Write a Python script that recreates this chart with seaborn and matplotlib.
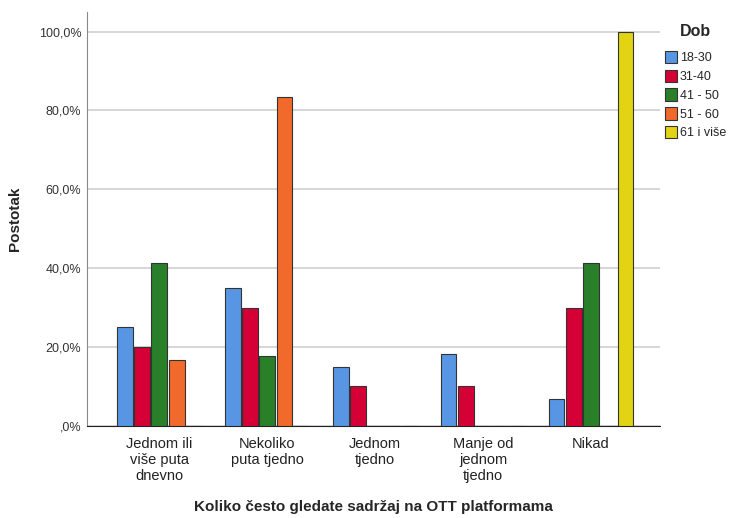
import pandas as pd
import matplotlib.pyplot as plt
import seaborn as sns
from matplotlib.ticker import FuncFormatter

# Data
categories = ["Jednom ili\nviše puta\ndnevno", "Nekoliko\nputa tjedno", "Jednom\ntjedno",
              "Manje od\njednom\ntjedno", "Nikad"]
age_groups = ["18-30", "31-40", "41 - 50", "51 - 60", "61 i više"]
p_18_30 = [25.0, 35.0, 15.0, 18.3, 6.7]
p_31_40 = [20.0, 30.0, 10.0, 10.0, 30.0]
p_41_50 = [41.2, 17.6, 0.0, 0.0, 41.2]
p_51_60 = [16.7, 83.3, 0.0, 0.0, 0.0]
p_61 = [0.0, 0.0, 0.0, 0.0, 100.0]
colors = ["#5896E4", "#D50035", "#2A8029", "#F26A2B", "#E2D412"]

rows = []
for grp, vals in zip(age_groups, [p_18_30, p_31_40, p_41_50, p_51_60, p_61]):
    for cat, v in zip(categories, vals):
        rows.append({"Kategorija": cat, "Dob": grp, "Postotak": v})
df = pd.DataFrame(rows)

sns.set_style("white")
plt.rcParams["font.family"] = ["Liberation Sans", "DejaVu Sans"]

fig = plt.figure(figsize=(7.31, 5.18), dpi=100)
ax = fig.add_axes([0.119, 0.178, 0.784, 0.799])

sns.barplot(data=df, x="Kategorija", y="Postotak", hue="Dob", order=categories,
            hue_order=age_groups, palette=colors, width=0.8, gap=0.08, edgecolor="#333333",
            linewidth=0.8, saturation=1, ax=ax, zorder=3)

ax.set_ylim(0, 105)
ax.set_xlim(-0.67, 4.64)
ax.set_yticks([0, 20, 40, 60, 80, 100])
ax.yaxis.set_major_formatter(FuncFormatter(
    lambda v, p: ",0%" if v == 0 else f"{v:.1f}%".replace(".", ",")))
ax.grid(axis="y", color="#d0d0d0", linewidth=1.2, zorder=0)
ax.set_axisbelow(True)
ax.tick_params(axis="y", labelsize=9, colors="#333333", length=0, pad=4)
ax.tick_params(axis="x", labelsize=10.5, colors="#222222", length=0, pad=8)
for lab in ax.get_xticklabels():
    lab.set_multialignment("center")

for s in ["top", "right"]:
    ax.spines[s].set_visible(False)
ax.spines["left"].set_color("#888888")
ax.spines["bottom"].set_color("#222222")

ax.set_ylabel("Postotak", fontsize=11, fontweight="bold", labelpad=12)
ax.set_xlabel("Koliko često gledate sadržaj na OTT platformama", fontsize=11,
              fontweight="bold", labelpad=12)

leg = ax.legend(title="Dob", loc="upper left", bbox_to_anchor=(0.995, 0.99),
                frameon=False, fontsize=9, title_fontproperties={"weight": "bold", "size": 11.5},
                handlelength=1.0, handleheight=1.15, handletextpad=0.2, labelspacing=0.42,
                borderaxespad=0.2)
leg._legend_box.align = "center"
leg._legend_box.sep = 9

fig.savefig("out.png", dpi=100)
